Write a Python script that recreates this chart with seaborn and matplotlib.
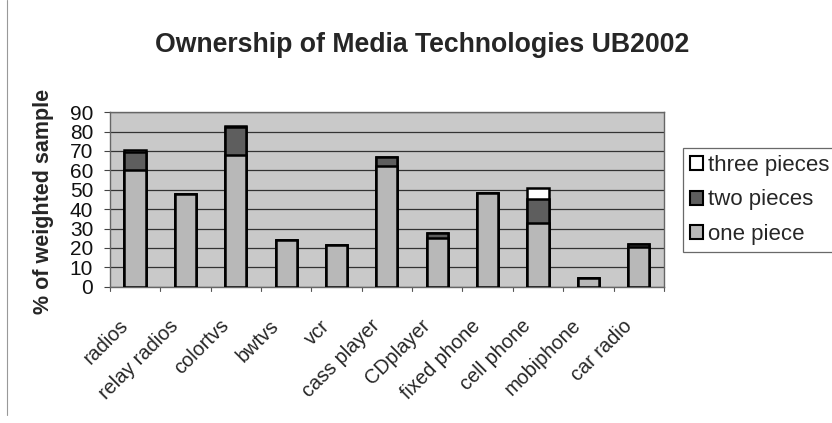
import matplotlib
matplotlib.use("Agg")
import matplotlib.pyplot as plt
import matplotlib.transforms as mtransforms
import seaborn as sns
import pandas as pd
import numpy as np
from matplotlib.patches import Patch
from matplotlib.lines import Line2D

categories = ["radios", "relay radios", "colortvs", "bwtvs", "vcr", "cass player",
              "CDplayer", "fixed phone", "cell phone", "mobiphone", "car radio"]
one_piece = [60, 48, 68, 24, 21.5, 62, 25, 48.5, 33, 4.5, 20.5]
two_pieces = [9.5, 0, 14.5, 0, 0, 5, 2.5, 0, 12, 0, 1.5]
three_pieces = [1, 0, 0.3, 0, 0, 0, 0, 0, 6, 0, 0]
series_names = ["three pieces", "two pieces", "one piece"]

sns.set_theme(style="white")
plt.rcParams['font.family'] = ['Liberation Sans', 'DejaVu Sans']

df = pd.DataFrame({"cat": categories, "one": one_piece, "two": two_pieces, "three": three_pieces})
df["lvl1"] = df["one"]
df["lvl2"] = df["one"] + df["two"]
df["lvl3"] = df["lvl2"] + df["three"]

fig = plt.figure(figsize=(8.32, 4.23), dpi=100)
ax = fig.add_axes([0.132, 0.322, 0.666, 0.413])
ax.set_facecolor("#c9c9c9")

colors = {"lvl3": "#ffffff", "lvl2": "#5e5e5e", "lvl1": "#b8b8b8"}
for col in ["lvl3", "lvl2", "lvl1"]:
    sns.barplot(data=df, x="cat", y=col, color=colors[col], saturation=1,
                width=0.42, edgecolor="black", linewidth=1.8, ax=ax, zorder=3)

ax.set_ylim(0, 90)
ax.set_xlim(-0.5, len(categories) - 0.5)
ax.set_yticks(np.arange(0, 91, 10))
ax.yaxis.grid(True, color="#333333", linewidth=0.9, zorder=0)
ax.set_axisbelow(True)
ax.tick_params(axis="y", labelsize=15, length=4, width=0.8, color="#444444",
               direction="out", left=True, pad=8, labelcolor="#111111")
ax.tick_params(axis="x", labelsize=14.3, length=0, pad=0)
ax.set_xticks(range(len(categories)))
ax.set_xticklabels(categories, rotation=45, ha="right", va="center", rotation_mode="anchor")
off = mtransforms.ScaledTranslation(-0.10, -0.36, fig.dpi_scale_trans)
for lab in ax.get_xticklabels():
    lab.set_transform(lab.get_transform() + off)
for b in np.arange(-0.5, len(categories), 1):
    ax.plot([b, b], [0, -2.2], color="#555555", lw=0.8, clip_on=False)
for s in ax.spines.values():
    s.set_color("#666666")
    s.set_linewidth(1.0)
ax.set_xlabel("")
ax.set_ylabel("% of weighted sample", fontsize=15.5, fontweight="bold")
ax.yaxis.set_label_coords(-0.10, 0.49)
fig.suptitle("Ownership of Media Technologies UB2002", fontsize=19.2, fontweight="bold", x=0.508, y=0.925)

handles = [Patch(facecolor="#ffffff", edgecolor="black", linewidth=1.5),
           Patch(facecolor="#5e5e5e", edgecolor="black", linewidth=1.5),
           Patch(facecolor="#b8b8b8", edgecolor="black", linewidth=1.5)]
leg = fig.legend(handles, series_names, loc="upper left", bbox_to_anchor=(0.821, 0.65),
                 fontsize=16, frameon=True, fancybox=False, borderpad=0.3,
                 handlelength=0.6, handleheight=0.6, handletextpad=0.2, labelspacing=0.62,
                 borderaxespad=0)
leg.get_frame().set_edgecolor("#444444")
leg.get_frame().set_linewidth(0.9)

fig.add_artist(Line2D([7/832, 7/832], [0.02, 1.0], color="#999999", lw=0.8))
fig.savefig("out.png", dpi=100)
